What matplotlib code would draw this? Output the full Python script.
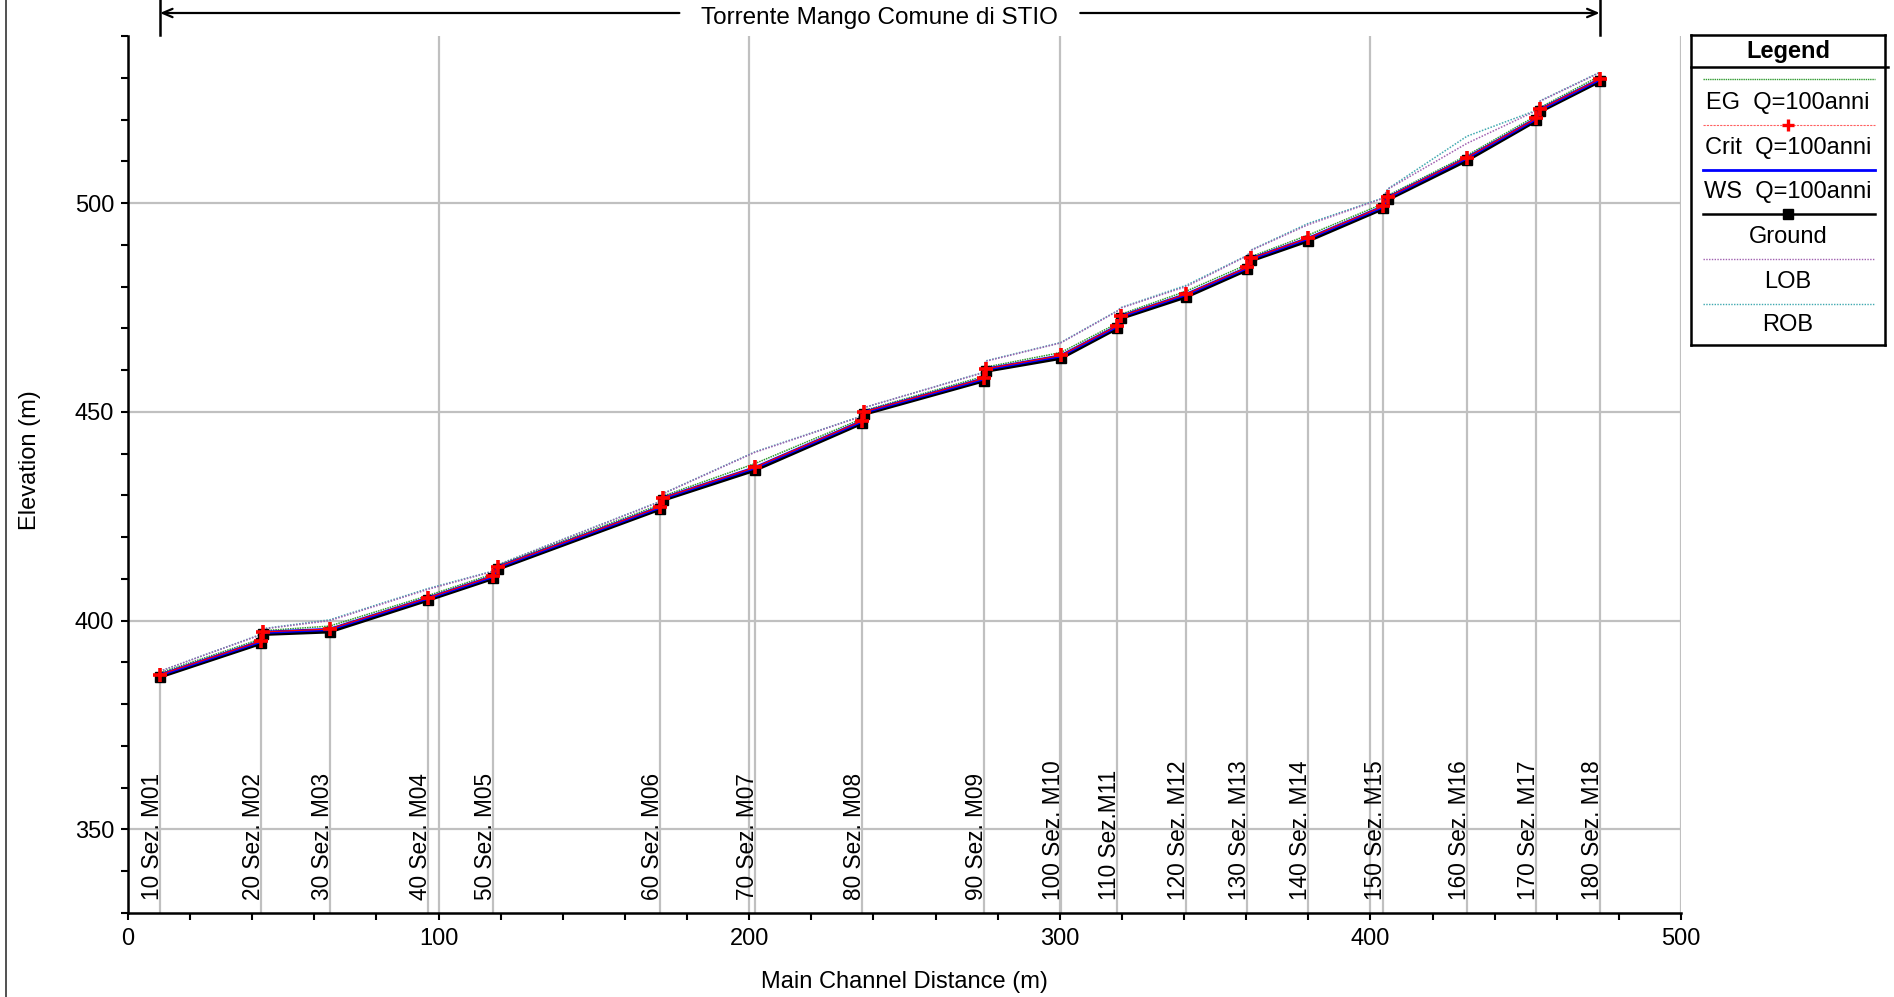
import matplotlib
matplotlib.use('Agg')
import matplotlib.pyplot as plt
from matplotlib.ticker import MultipleLocator
from matplotlib.transforms import blended_transform_factory, offset_copy
from matplotlib.lines import Line2D

plt.rcParams['font.family'] = ['Liberation Sans', 'DejaVu Sans']

# ---------------- data ----------------
dist = [10.3, 42.7, 43.5, 64.9, 96.6, 117.6, 119.0, 171.4, 172.1, 201.8,
        236.2, 236.9, 275.5, 276.1, 300.3, 318.5, 319.8, 340.7, 360.4, 361.7,
        379.9, 404.0, 405.6, 431.1, 453.4, 454.7, 473.8]
ground = [386.6, 394.6, 396.8, 397.4, 405.0, 410.2, 412.4, 426.8, 428.9, 436.1,
          447.3, 449.5, 457.5, 459.8, 462.9, 470.1, 472.5, 477.6, 484.1, 486.3,
          491.0, 498.7, 500.9, 510.3, 519.8, 522.0, 529.2]
ws = [387.0, 395.0, 397.2, 397.9, 405.4, 410.6, 412.8, 427.2, 429.3, 436.6,
      447.7, 449.9, 457.9, 460.2, 463.4, 470.5, 472.9, 478.1, 484.5, 486.7,
      491.5, 499.1, 501.3, 510.8, 520.2, 522.4, 529.6]
crit = [387.1, 395.1, 397.3, 398.0, 405.5, 410.7, 412.9, 427.3, 429.4, 436.7,
        447.8, 450.0, 458.0, 460.3, 463.5, 470.6, 473.0, 478.2, 484.6, 486.8,
        491.6, 499.2, 501.4, 510.9, 520.3, 522.5, 529.7]
eg = [387.5, 395.6, 397.6, 398.7, 406.0, 411.2, 413.2, 427.8, 429.8, 437.6,
      448.3, 450.3, 458.5, 460.7, 464.2, 471.2, 473.4, 478.9, 485.3, 487.2,
      492.3, 499.8, 501.8, 511.4, 520.9, 522.9, 530.4]
lob = [387.9, 396.6, 398.0, 400.0, 407.5, 411.8, 413.3, 428.5, 430.3, 440.3,
       448.9, 451.0, 459.4, 462.1, 466.5, 474.1, 474.9, 480.0, 487.4, 488.7,
       494.8, 501.1, 503.3, 514.3, 522.1, 524.4, 531.2]
rob = [387.9, 396.7, 398.1, 400.2, 407.7, 411.9, 413.4, 428.6, 430.4, 440.4,
       449.0, 451.0, 459.5, 462.2, 466.6, 474.2, 475.0, 480.3, 487.5, 488.8,
       495.1, 501.2, 503.4, 516.0, 522.2, 524.5, 531.3]

# labelled cross sections: index into the arrays above + label
sec_index = [0, 1, 3, 4, 5, 7, 9, 10, 12, 14, 15, 17, 18, 20, 21, 23, 24, 26]
sec_labels = ["10 Sez. M01", "20 Sez. M02", "30 Sez. M03", "40 Sez. M04",
              "50 Sez. M05", "60 Sez. M06", "70 Sez. M07", "80 Sez. M08",
              "90 Sez. M09", "100 Sez. M10", "110 Sez.M11", "120 Sez. M12",
              "130 Sez. M13", "140 Sez. M14", "150 Sez. M15", "160 Sez. M16",
              "170 Sez. M17", "180 Sez. M18"]

legend_labels = ["EG  Q=100anni", "Crit  Q=100anni", "WS  Q=100anni",
                 "Ground", "LOB", "ROB"]
title = "Torrente Mango Comune di STIO"

# ---------------- figure ----------------
W, H = 1894, 997
fig = plt.figure(figsize=(W / 100, H / 100), dpi=100)
ax_l, ax_r, ax_t, ax_b = 128, 1681, 36, 913
ax = fig.add_axes([ax_l / W, 1 - ax_b / H, (ax_r - ax_l) / W, (ax_b - ax_t) / H])
ax.set_xlim(0, 500)
ax.set_ylim(330, 540)

FS = 17
FS_SEC = 16.3
GRID = '#c0c0c0'
ax.xaxis.set_major_locator(MultipleLocator(100))
ax.xaxis.set_minor_locator(MultipleLocator(20))
ax.yaxis.set_major_locator(MultipleLocator(50))
ax.yaxis.set_minor_locator(MultipleLocator(10))
ax.grid(True, which='major', color=GRID, lw=1.6)
ax.set_axisbelow(True)
ax.tick_params(which='both', direction='out', length=5, width=1.5, labelsize=FS,
               color='black')
ax.tick_params(axis='x', pad=6)
ax.tick_params(axis='y', pad=5)
for s in ['top', 'right']:
    ax.spines[s].set_visible(False)
for s in ['left', 'bottom']:
    ax.spines[s].set_linewidth(1.8)

# station vertical lines and labels
for i, lab in zip(sec_index, sec_labels):
    ax.plot([dist[i], dist[i]], [330, ground[i]], color=GRID, lw=1.6, zorder=1)
    ax.text(dist[i], 333.2, lab, rotation=90, rotation_mode='anchor',
            ha='left', va='baseline', fontsize=FS_SEC, zorder=2,
            transform=offset_copy(ax.transData, fig=fig, x=-1, y=0, units='dots'))

# series
ax.plot(dist, rob, color='#3fa9b0', lw=1.1, ls=(0, (1, 1)), zorder=3)
ax.plot(dist, lob, color='#a060b0', lw=1.1, ls=(0, (1, 1)), zorder=3)
ax.plot(dist, eg, color='#2e9a2e', lw=1.1, ls=(0, (1, 0.6)), zorder=4)
ax.plot(dist, ground, color='black', lw=2.8, marker='s', ms=7.5, zorder=5)
ax.plot(dist, ws, color='#0000ff', lw=2.3, zorder=6)
ax.plot(dist, crit, color='#ff0000', lw=0.9, marker='+', ms=10.5, mew=2.6, zorder=7)

# axis labels
fig.text(904 / W, 1 - 982 / H, "Main Channel Distance (m)", ha='center', va='center',
         fontsize=FS)
fig.text(30 / W, 1 - 460 / H, "Elevation (m)", ha='center', va='center',
         rotation=90, fontsize=FS)

# title with arrows
trans = blended_transform_factory(ax.transData, fig.transFigure)
x0, x1 = dist[0], dist[-1]
ytit = 1 - 13 / H
t = ax.text((x0 + x1) / 2, 1 - 18 / H, title, ha='center', va='center',
            fontsize=FS + 0.5, transform=trans)
fig.canvas.draw()
bb = t.get_window_extent(fig.canvas.get_renderer())
inv = ax.transData.inverted()
tl = inv.transform((bb.x0 - 22, 0))[0]
tr = inv.transform((bb.x1 + 22, 0))[0]
ap = dict(arrowstyle='->,head_length=0.7,head_width=0.3', lw=1.6, color='black',
          shrinkA=0, shrinkB=0)
ax.annotate('', xy=(x0, ytit), xytext=(tl, ytit), xycoords=trans, textcoords=trans,
            arrowprops=ap, annotation_clip=False)
ax.annotate('', xy=(x1, ytit), xytext=(tr, ytit), xycoords=trans, textcoords=trans,
            arrowprops=ap, annotation_clip=False)
for xx in (x0, x1):
    ax.plot([xx, xx], [1.0, 1 - 35 / H], color='black', lw=1.8, transform=trans,
            clip_on=False)

# left figure border
fig.add_artist(Line2D([6 / W, 6 / W], [0, 1], transform=fig.transFigure,
                      color='#333333', lw=1.2))

# legend box (manual)
lg_l, lg_r, lg_t, lg_b = 1691, 1885, 35, 345
lax = fig.add_axes([lg_l / W, 1 - lg_b / H, (lg_r - lg_l) / W, (lg_b - lg_t) / H])
lax.set_xlim(lg_l, lg_r)
lax.set_ylim(lg_b, lg_t)
lax.set_xticks([])
lax.set_yticks([])
for s in lax.spines.values():
    s.set_linewidth(1.8)
xc = (lg_l + lg_r) / 2
lax.text(xc, 51, "Legend", ha='center', va='center', fontsize=FS, fontweight='bold')
lax.plot([lg_l, lg_r + 3], [67, 67], color='black', lw=1.8, clip_on=False)
lx0, lx1 = 1703, 1875
line_y = [79, 125, 170, 214, 259, 304]
text_y = [103, 148, 192, 237, 282, 325]
styles = [
    dict(color='#2e9a2e', lw=1.0, ls=(0, (1, 0.6))),
    dict(color='#ff6060', lw=0.8, ls=(0, (2, 1))),
    dict(color='#0000ff', lw=2.0),
    dict(color='black', lw=1.8),
    dict(color='#a060b0', lw=1.0, ls=(0, (1, 1))),
    dict(color='#3fa9b0', lw=1.0, ls=(0, (1, 1))),
]
for ly, ty, lab, st in zip(line_y, text_y, legend_labels, styles):
    lax.plot([lx0, lx1], [ly, ly], **st)
    lax.text(xc, ty, lab, ha='center', va='center', fontsize=FS)
lax.plot([xc], [line_y[1]], marker='+', color='#ff0000', ms=9, mew=2.4)
lax.plot([xc], [line_y[3]], marker='s', color='black', ms=6.5)

fig.savefig('out.png', dpi=100)
